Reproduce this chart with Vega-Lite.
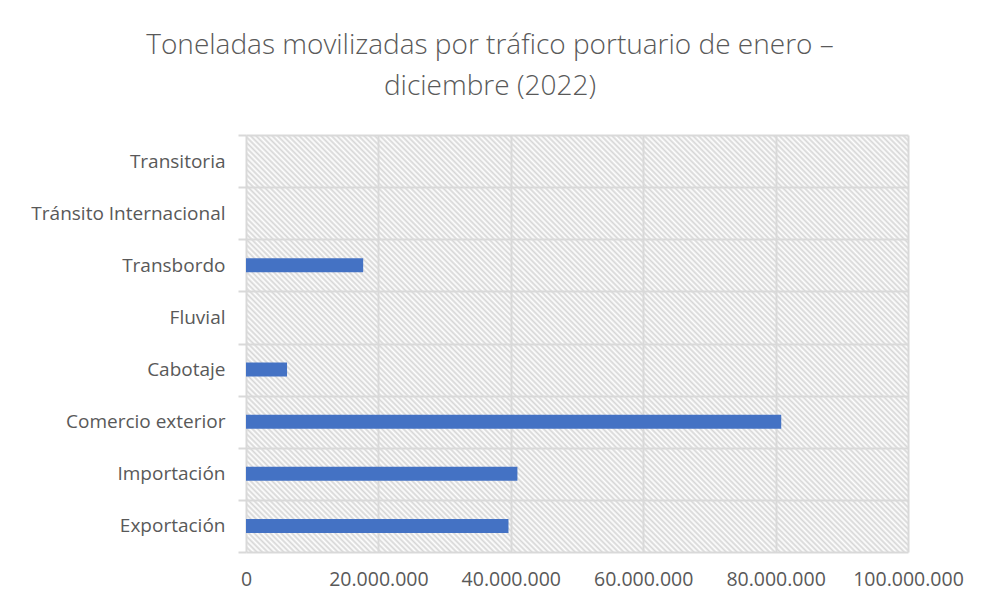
{
  "$schema": "https://vega.github.io/schema/vega-lite/v6.json",
  "autosize": {"type": "none"},
  "width": 662,
  "height": 417,
  "padding": {"left": 246, "top": 135, "right": 74, "bottom": 53},
  "background": "#ffffff",
  "title": {
    "text": ["Toneladas movilizadas por tráfico portuario de enero –", "diciembre (2022)"],
    "font": "Open Sans",
    "fontSize": 28,
    "fontWeight": 300,
    "color": "#595959",
    "anchor": "middle",
    "frame": "group",
    "dx": -87,
    "offset": 25,
    "lineHeight": 41
  },
  "data": {
    "values": [
      {"categoria": "Transitoria", "toneladas": 0},
      {"categoria": "Tránsito Internacional", "toneladas": 0},
      {"categoria": "Transbordo", "toneladas": 17700000},
      {"categoria": "Fluvial", "toneladas": 0},
      {"categoria": "Cabotaje", "toneladas": 6200000},
      {"categoria": "Comercio exterior", "toneladas": 80850000},
      {"categoria": "Importación", "toneladas": 41000000},
      {"categoria": "Exportación", "toneladas": 39650000}
    ]
  },
  "mark": {"type": "bar", "color": "#4472C4", "height": {"band": 0.27}},
  "encoding": {
    "y": {
      "field": "categoria",
      "type": "nominal",
      "sort": ["Transitoria", "Tránsito Internacional", "Transbordo", "Fluvial", "Cabotaje", "Comercio exterior", "Importación", "Exportación"],
      "scale": {"paddingInner": 0, "paddingOuter": 0},
      "axis": {
        "title": null,
        "domain": false,
        "tickBand": "extent",
        "ticks": true,
        "tickSize": 8,
        "tickColor": "#d9d9d9",
        "tickWidth": 2,
        "grid": true,
        "gridColor": "#d9d9d9",
        "gridWidth": 2,
        "labelFont": "Open Sans",
        "labelFontSize": 19,
        "labelColor": "#595959",
        "labelPadding": 13,
        "labelLimit": 400
      }
    },
    "x": {
      "field": "toneladas",
      "type": "quantitative",
      "scale": {"domain": [0, 100000000], "nice": false},
      "axis": {
        "title": null,
        "values": [0, 20000000, 40000000, 60000000, 80000000, 100000000],
        "domain": false,
        "ticks": false,
        "grid": true,
        "gridColor": "#d9d9d9",
        "gridWidth": 2,
        "labelFont": "Open Sans",
        "labelFontSize": 19.5,
        "labelColor": "#595959",
        "labelPadding": 18,
        "labelFlush": false,
        "labelOverlap": false,
        "labelExpr": "replace(format(datum.value, ','), regexp(',', 'g'), '.')"
      }
    }
  },
  "config": {
    "view": {
      "stroke": null,
      "fill": {
        "gradient": "linear",
        "x1": 0, "y1": 1, "x2": 1.1669, "y2": 0.265,
        "stops": [
{"offset":0,"color":"#d6d6d6"},{"offset":0.0025,"color":"#fff"},{"offset":0.005,"color":"#d6d6d6"},{"offset":0.0075,"color":"#fff"},
{"offset":0.01,"color":"#d6d6d6"},{"offset":0.0125,"color":"#fff"},{"offset":0.015,"color":"#d6d6d6"},{"offset":0.0175,"color":"#fff"},
{"offset":0.02,"color":"#d6d6d6"},{"offset":0.0225,"color":"#fff"},{"offset":0.025,"color":"#d6d6d6"},{"offset":0.0275,"color":"#fff"},
{"offset":0.03,"color":"#d6d6d6"},{"offset":0.0325,"color":"#fff"},{"offset":0.035,"color":"#d6d6d6"},{"offset":0.0375,"color":"#fff"},
{"offset":0.04,"color":"#d6d6d6"},{"offset":0.0425,"color":"#fff"},{"offset":0.045,"color":"#d6d6d6"},{"offset":0.0475,"color":"#fff"},
{"offset":0.05,"color":"#d6d6d6"},{"offset":0.0525,"color":"#fff"},{"offset":0.055,"color":"#d6d6d6"},{"offset":0.0575,"color":"#fff"},
{"offset":0.06,"color":"#d6d6d6"},{"offset":0.0625,"color":"#fff"},{"offset":0.065,"color":"#d6d6d6"},{"offset":0.0675,"color":"#fff"},
{"offset":0.07,"color":"#d6d6d6"},{"offset":0.0725,"color":"#fff"},{"offset":0.075,"color":"#d6d6d6"},{"offset":0.0775,"color":"#fff"},
{"offset":0.08,"color":"#d6d6d6"},{"offset":0.0825,"color":"#fff"},{"offset":0.085,"color":"#d6d6d6"},{"offset":0.0875,"color":"#fff"},
{"offset":0.09,"color":"#d6d6d6"},{"offset":0.0925,"color":"#fff"},{"offset":0.095,"color":"#d6d6d6"},{"offset":0.0975,"color":"#fff"},
{"offset":0.10,"color":"#d6d6d6"},{"offset":0.1025,"color":"#fff"},{"offset":0.105,"color":"#d6d6d6"},{"offset":0.1075,"color":"#fff"},
{"offset":0.11,"color":"#d6d6d6"},{"offset":0.1125,"color":"#fff"},{"offset":0.115,"color":"#d6d6d6"},{"offset":0.1175,"color":"#fff"},
{"offset":0.12,"color":"#d6d6d6"},{"offset":0.1225,"color":"#fff"},{"offset":0.125,"color":"#d6d6d6"},{"offset":0.1275,"color":"#fff"},
{"offset":0.13,"color":"#d6d6d6"},{"offset":0.1325,"color":"#fff"},{"offset":0.135,"color":"#d6d6d6"},{"offset":0.1375,"color":"#fff"},
{"offset":0.14,"color":"#d6d6d6"},{"offset":0.1425,"color":"#fff"},{"offset":0.145,"color":"#d6d6d6"},{"offset":0.1475,"color":"#fff"},
{"offset":0.15,"color":"#d6d6d6"},{"offset":0.1525,"color":"#fff"},{"offset":0.155,"color":"#d6d6d6"},{"offset":0.1575,"color":"#fff"},
{"offset":0.16,"color":"#d6d6d6"},{"offset":0.1625,"color":"#fff"},{"offset":0.165,"color":"#d6d6d6"},{"offset":0.1675,"color":"#fff"},
{"offset":0.17,"color":"#d6d6d6"},{"offset":0.1725,"color":"#fff"},{"offset":0.175,"color":"#d6d6d6"},{"offset":0.1775,"color":"#fff"},
{"offset":0.18,"color":"#d6d6d6"},{"offset":0.1825,"color":"#fff"},{"offset":0.185,"color":"#d6d6d6"},{"offset":0.1875,"color":"#fff"},
{"offset":0.19,"color":"#d6d6d6"},{"offset":0.1925,"color":"#fff"},{"offset":0.195,"color":"#d6d6d6"},{"offset":0.1975,"color":"#fff"},
{"offset":0.20,"color":"#d6d6d6"},{"offset":0.2025,"color":"#fff"},{"offset":0.205,"color":"#d6d6d6"},{"offset":0.2075,"color":"#fff"},
{"offset":0.21,"color":"#d6d6d6"},{"offset":0.2125,"color":"#fff"},{"offset":0.215,"color":"#d6d6d6"},{"offset":0.2175,"color":"#fff"},
{"offset":0.22,"color":"#d6d6d6"},{"offset":0.2225,"color":"#fff"},{"offset":0.225,"color":"#d6d6d6"},{"offset":0.2275,"color":"#fff"},
{"offset":0.23,"color":"#d6d6d6"},{"offset":0.2325,"color":"#fff"},{"offset":0.235,"color":"#d6d6d6"},{"offset":0.2375,"color":"#fff"},
{"offset":0.24,"color":"#d6d6d6"},{"offset":0.2425,"color":"#fff"},{"offset":0.245,"color":"#d6d6d6"},{"offset":0.2475,"color":"#fff"},
{"offset":0.25,"color":"#d6d6d6"},{"offset":0.2525,"color":"#fff"},{"offset":0.255,"color":"#d6d6d6"},{"offset":0.2575,"color":"#fff"},
{"offset":0.26,"color":"#d6d6d6"},{"offset":0.2625,"color":"#fff"},{"offset":0.265,"color":"#d6d6d6"},{"offset":0.2675,"color":"#fff"},
{"offset":0.27,"color":"#d6d6d6"},{"offset":0.2725,"color":"#fff"},{"offset":0.275,"color":"#d6d6d6"},{"offset":0.2775,"color":"#fff"},
{"offset":0.28,"color":"#d6d6d6"},{"offset":0.2825,"color":"#fff"},{"offset":0.285,"color":"#d6d6d6"},{"offset":0.2875,"color":"#fff"},
{"offset":0.29,"color":"#d6d6d6"},{"offset":0.2925,"color":"#fff"},{"offset":0.295,"color":"#d6d6d6"},{"offset":0.2975,"color":"#fff"},
{"offset":0.30,"color":"#d6d6d6"},{"offset":0.3025,"color":"#fff"},{"offset":0.305,"color":"#d6d6d6"},{"offset":0.3075,"color":"#fff"},
{"offset":0.31,"color":"#d6d6d6"},{"offset":0.3125,"color":"#fff"},{"offset":0.315,"color":"#d6d6d6"},{"offset":0.3175,"color":"#fff"},
{"offset":0.32,"color":"#d6d6d6"},{"offset":0.3225,"color":"#fff"},{"offset":0.325,"color":"#d6d6d6"},{"offset":0.3275,"color":"#fff"},
{"offset":0.33,"color":"#d6d6d6"},{"offset":0.3325,"color":"#fff"},{"offset":0.335,"color":"#d6d6d6"},{"offset":0.3375,"color":"#fff"},
{"offset":0.34,"color":"#d6d6d6"},{"offset":0.3425,"color":"#fff"},{"offset":0.345,"color":"#d6d6d6"},{"offset":0.3475,"color":"#fff"},
{"offset":0.35,"color":"#d6d6d6"},{"offset":0.3525,"color":"#fff"},{"offset":0.355,"color":"#d6d6d6"},{"offset":0.3575,"color":"#fff"},
{"offset":0.36,"color":"#d6d6d6"},{"offset":0.3625,"color":"#fff"},{"offset":0.365,"color":"#d6d6d6"},{"offset":0.3675,"color":"#fff"},
{"offset":0.37,"color":"#d6d6d6"},{"offset":0.3725,"color":"#fff"},{"offset":0.375,"color":"#d6d6d6"},{"offset":0.3775,"color":"#fff"},
{"offset":0.38,"color":"#d6d6d6"},{"offset":0.3825,"color":"#fff"},{"offset":0.385,"color":"#d6d6d6"},{"offset":0.3875,"color":"#fff"},
{"offset":0.39,"color":"#d6d6d6"},{"offset":0.3925,"color":"#fff"},{"offset":0.395,"color":"#d6d6d6"},{"offset":0.3975,"color":"#fff"},
{"offset":0.40,"color":"#d6d6d6"},{"offset":0.4025,"color":"#fff"},{"offset":0.405,"color":"#d6d6d6"},{"offset":0.4075,"color":"#fff"},
{"offset":0.41,"color":"#d6d6d6"},{"offset":0.4125,"color":"#fff"},{"offset":0.415,"color":"#d6d6d6"},{"offset":0.4175,"color":"#fff"},
{"offset":0.42,"color":"#d6d6d6"},{"offset":0.4225,"color":"#fff"},{"offset":0.425,"color":"#d6d6d6"},{"offset":0.4275,"color":"#fff"},
{"offset":0.43,"color":"#d6d6d6"},{"offset":0.4325,"color":"#fff"},{"offset":0.435,"color":"#d6d6d6"},{"offset":0.4375,"color":"#fff"},
{"offset":0.44,"color":"#d6d6d6"},{"offset":0.4425,"color":"#fff"},{"offset":0.445,"color":"#d6d6d6"},{"offset":0.4475,"color":"#fff"},
{"offset":0.45,"color":"#d6d6d6"},{"offset":0.4525,"color":"#fff"},{"offset":0.455,"color":"#d6d6d6"},{"offset":0.4575,"color":"#fff"},
{"offset":0.46,"color":"#d6d6d6"},{"offset":0.4625,"color":"#fff"},{"offset":0.465,"color":"#d6d6d6"},{"offset":0.4675,"color":"#fff"},
{"offset":0.47,"color":"#d6d6d6"},{"offset":0.4725,"color":"#fff"},{"offset":0.475,"color":"#d6d6d6"},{"offset":0.4775,"color":"#fff"},
{"offset":0.48,"color":"#d6d6d6"},{"offset":0.4825,"color":"#fff"},{"offset":0.485,"color":"#d6d6d6"},{"offset":0.4875,"color":"#fff"},
{"offset":0.49,"color":"#d6d6d6"},{"offset":0.4925,"color":"#fff"},{"offset":0.495,"color":"#d6d6d6"},{"offset":0.4975,"color":"#fff"},
{"offset":0.50,"color":"#d6d6d6"},{"offset":0.5025,"color":"#fff"},{"offset":0.505,"color":"#d6d6d6"},{"offset":0.5075,"color":"#fff"},
{"offset":0.51,"color":"#d6d6d6"},{"offset":0.5125,"color":"#fff"},{"offset":0.515,"color":"#d6d6d6"},{"offset":0.5175,"color":"#fff"},
{"offset":0.52,"color":"#d6d6d6"},{"offset":0.5225,"color":"#fff"},{"offset":0.525,"color":"#d6d6d6"},{"offset":0.5275,"color":"#fff"},
{"offset":0.53,"color":"#d6d6d6"},{"offset":0.5325,"color":"#fff"},{"offset":0.535,"color":"#d6d6d6"},{"offset":0.5375,"color":"#fff"},
{"offset":0.54,"color":"#d6d6d6"},{"offset":0.5425,"color":"#fff"},{"offset":0.545,"color":"#d6d6d6"},{"offset":0.5475,"color":"#fff"},
{"offset":0.55,"color":"#d6d6d6"},{"offset":0.5525,"color":"#fff"},{"offset":0.555,"color":"#d6d6d6"},{"offset":0.5575,"color":"#fff"},
{"offset":0.56,"color":"#d6d6d6"},{"offset":0.5625,"color":"#fff"},{"offset":0.565,"color":"#d6d6d6"},{"offset":0.5675,"color":"#fff"},
{"offset":0.57,"color":"#d6d6d6"},{"offset":0.5725,"color":"#fff"},{"offset":0.575,"color":"#d6d6d6"},{"offset":0.5775,"color":"#fff"},
{"offset":0.58,"color":"#d6d6d6"},{"offset":0.5825,"color":"#fff"},{"offset":0.585,"color":"#d6d6d6"},{"offset":0.5875,"color":"#fff"},
{"offset":0.59,"color":"#d6d6d6"},{"offset":0.5925,"color":"#fff"},{"offset":0.595,"color":"#d6d6d6"},{"offset":0.5975,"color":"#fff"},
{"offset":0.60,"color":"#d6d6d6"},{"offset":0.6025,"color":"#fff"},{"offset":0.605,"color":"#d6d6d6"},{"offset":0.6075,"color":"#fff"},
{"offset":0.61,"color":"#d6d6d6"},{"offset":0.6125,"color":"#fff"},{"offset":0.615,"color":"#d6d6d6"},{"offset":0.6175,"color":"#fff"},
{"offset":0.62,"color":"#d6d6d6"},{"offset":0.6225,"color":"#fff"},{"offset":0.625,"color":"#d6d6d6"},{"offset":0.6275,"color":"#fff"},
{"offset":0.63,"color":"#d6d6d6"},{"offset":0.6325,"color":"#fff"},{"offset":0.635,"color":"#d6d6d6"},{"offset":0.6375,"color":"#fff"},
{"offset":0.64,"color":"#d6d6d6"},{"offset":0.6425,"color":"#fff"},{"offset":0.645,"color":"#d6d6d6"},{"offset":0.6475,"color":"#fff"},
{"offset":0.65,"color":"#d6d6d6"},{"offset":0.6525,"color":"#fff"},{"offset":0.655,"color":"#d6d6d6"},{"offset":0.6575,"color":"#fff"},
{"offset":0.66,"color":"#d6d6d6"},{"offset":0.6625,"color":"#fff"},{"offset":0.665,"color":"#d6d6d6"},{"offset":0.6675,"color":"#fff"},
{"offset":0.67,"color":"#d6d6d6"},{"offset":0.6725,"color":"#fff"},{"offset":0.675,"color":"#d6d6d6"},{"offset":0.6775,"color":"#fff"},
{"offset":0.68,"color":"#d6d6d6"},{"offset":0.6825,"color":"#fff"},{"offset":0.685,"color":"#d6d6d6"},{"offset":0.6875,"color":"#fff"},
{"offset":0.69,"color":"#d6d6d6"},{"offset":0.6925,"color":"#fff"},{"offset":0.695,"color":"#d6d6d6"},{"offset":0.6975,"color":"#fff"},
{"offset":0.70,"color":"#d6d6d6"},{"offset":0.7025,"color":"#fff"},{"offset":0.705,"color":"#d6d6d6"},{"offset":0.7075,"color":"#fff"},
{"offset":0.71,"color":"#d6d6d6"},{"offset":0.7125,"color":"#fff"},{"offset":0.715,"color":"#d6d6d6"},{"offset":0.7175,"color":"#fff"},
{"offset":0.72,"color":"#d6d6d6"},{"offset":0.7225,"color":"#fff"},{"offset":0.725,"color":"#d6d6d6"},{"offset":0.7275,"color":"#fff"},
{"offset":0.73,"color":"#d6d6d6"},{"offset":0.7325,"color":"#fff"},{"offset":0.735,"color":"#d6d6d6"},{"offset":0.7375,"color":"#fff"},
{"offset":0.74,"color":"#d6d6d6"},{"offset":0.7425,"color":"#fff"},{"offset":0.745,"color":"#d6d6d6"},{"offset":0.7475,"color":"#fff"},
{"offset":0.75,"color":"#d6d6d6"},{"offset":0.7525,"color":"#fff"},{"offset":0.755,"color":"#d6d6d6"},{"offset":0.7575,"color":"#fff"},
{"offset":0.76,"color":"#d6d6d6"},{"offset":0.7625,"color":"#fff"},{"offset":0.765,"color":"#d6d6d6"},{"offset":0.7675,"color":"#fff"},
{"offset":0.77,"color":"#d6d6d6"},{"offset":0.7725,"color":"#fff"},{"offset":0.775,"color":"#d6d6d6"},{"offset":0.7775,"color":"#fff"},
{"offset":0.78,"color":"#d6d6d6"},{"offset":0.7825,"color":"#fff"},{"offset":0.785,"color":"#d6d6d6"},{"offset":0.7875,"color":"#fff"},
{"offset":0.79,"color":"#d6d6d6"},{"offset":0.7925,"color":"#fff"},{"offset":0.795,"color":"#d6d6d6"},{"offset":0.7975,"color":"#fff"},
{"offset":0.80,"color":"#d6d6d6"},{"offset":0.8025,"color":"#fff"},{"offset":0.805,"color":"#d6d6d6"},{"offset":0.8075,"color":"#fff"},
{"offset":0.81,"color":"#d6d6d6"},{"offset":0.8125,"color":"#fff"},{"offset":0.815,"color":"#d6d6d6"},{"offset":0.8175,"color":"#fff"},
{"offset":0.82,"color":"#d6d6d6"},{"offset":0.8225,"color":"#fff"},{"offset":0.825,"color":"#d6d6d6"},{"offset":0.8275,"color":"#fff"},
{"offset":0.83,"color":"#d6d6d6"},{"offset":0.8325,"color":"#fff"},{"offset":0.835,"color":"#d6d6d6"},{"offset":0.8375,"color":"#fff"},
{"offset":0.84,"color":"#d6d6d6"},{"offset":0.8425,"color":"#fff"},{"offset":0.845,"color":"#d6d6d6"},{"offset":0.8475,"color":"#fff"},
{"offset":0.85,"color":"#d6d6d6"},{"offset":0.8525,"color":"#fff"},{"offset":0.855,"color":"#d6d6d6"},{"offset":0.8575,"color":"#fff"},
{"offset":0.86,"color":"#d6d6d6"},{"offset":0.8625,"color":"#fff"},{"offset":0.865,"color":"#d6d6d6"},{"offset":0.8675,"color":"#fff"},
{"offset":0.87,"color":"#d6d6d6"},{"offset":0.8725,"color":"#fff"},{"offset":0.875,"color":"#d6d6d6"},{"offset":0.8775,"color":"#fff"},
{"offset":0.88,"color":"#d6d6d6"},{"offset":0.8825,"color":"#fff"},{"offset":0.885,"color":"#d6d6d6"},{"offset":0.8875,"color":"#fff"},
{"offset":0.89,"color":"#d6d6d6"},{"offset":0.8925,"color":"#fff"},{"offset":0.895,"color":"#d6d6d6"},{"offset":0.8975,"color":"#fff"},
{"offset":0.90,"color":"#d6d6d6"},{"offset":0.9025,"color":"#fff"},{"offset":0.905,"color":"#d6d6d6"},{"offset":0.9075,"color":"#fff"},
{"offset":0.91,"color":"#d6d6d6"},{"offset":0.9125,"color":"#fff"},{"offset":0.915,"color":"#d6d6d6"},{"offset":0.9175,"color":"#fff"},
{"offset":0.92,"color":"#d6d6d6"},{"offset":0.9225,"color":"#fff"},{"offset":0.925,"color":"#d6d6d6"},{"offset":0.9275,"color":"#fff"},
{"offset":0.93,"color":"#d6d6d6"},{"offset":0.9325,"color":"#fff"},{"offset":0.935,"color":"#d6d6d6"},{"offset":0.9375,"color":"#fff"},
{"offset":0.94,"color":"#d6d6d6"},{"offset":0.9425,"color":"#fff"},{"offset":0.945,"color":"#d6d6d6"},{"offset":0.9475,"color":"#fff"},
{"offset":0.95,"color":"#d6d6d6"},{"offset":0.9525,"color":"#fff"},{"offset":0.955,"color":"#d6d6d6"},{"offset":0.9575,"color":"#fff"},
{"offset":0.96,"color":"#d6d6d6"},{"offset":0.9625,"color":"#fff"},{"offset":0.965,"color":"#d6d6d6"},{"offset":0.9675,"color":"#fff"},
{"offset":0.97,"color":"#d6d6d6"},{"offset":0.9725,"color":"#fff"},{"offset":0.975,"color":"#d6d6d6"},{"offset":0.9775,"color":"#fff"},
{"offset":0.98,"color":"#d6d6d6"},{"offset":0.9825,"color":"#fff"},{"offset":0.985,"color":"#d6d6d6"},{"offset":0.9875,"color":"#fff"},
{"offset":0.99,"color":"#d6d6d6"},{"offset":0.9925,"color":"#fff"},{"offset":0.995,"color":"#d6d6d6"},{"offset":0.9975,"color":"#fff"},
{"offset":1,"color":"#d6d6d6"}
        ]
      }
    }
  }
}
